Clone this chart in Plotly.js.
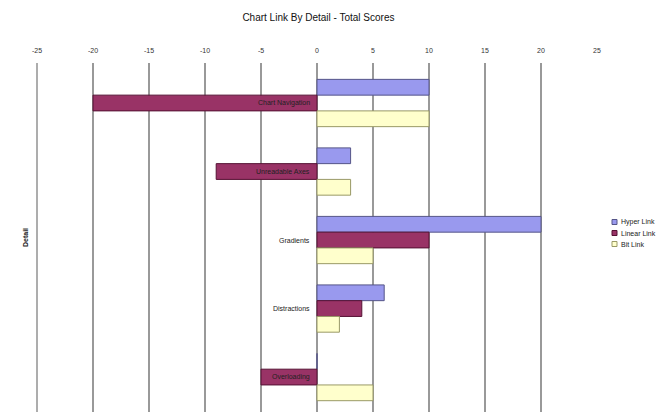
<!DOCTYPE html>
<html>
<head>
<meta charset="utf-8">
<script src="https://cdn.plot.ly/plotly-3.0.1.min.js"></script>
<style>html,body{margin:0;padding:0;background:#fff;}#chart{width:669px;height:412px;}</style>
</head>
<body>
<div id="chart"></div>
<script>
const categories = ["Chart Navigation", "Unreadable Axes", "Gradients", "Distractions", "Overloading"];
const hyperLink = [10, 3, 20, 6, 0];
const linearLink = [-20, -9, 10, 4, -5];
const bitLink = [10, 3, 5, 2, 5];
const seriesNames = ["Hyper Link", "Linear Link", "Bit Link"];
const xTicks = [-25, -20, -15, -10, -5, 0, 5, 10, 15, 20, 25];

const colors = ["#9999ee", "#993366", "#ffffcc"];
const lines = ["#555588", "#551133", "#999966"];
const vals = [hyperLink, linearLink, bitLink];

const traces = vals.map((v, i) => ({
  type: "bar",
  orientation: "h",
  name: seriesNames[i],
  y: categories,
  x: v,
  marker: {color: colors[i], line: {color: lines[i], width: 1}},
  hoverinfo: "x+y+name"
}));

const FONT = "Arial, Liberation Sans, sans-serif";
const W = 669, H = 412, ML = 37, MR = 72, MT = 63, MB = 0;
const pw = W - ML - MR, ph = H - MT - MB;
const px2x = p => (p - ML) / pw;
const py2y = p => 1 - (p - MT) / ph;

const annotations = categories.map(c => ({
  x: 0, y: c, xref: "x", yref: "y",
  text: c, showarrow: false, xanchor: "right", xshift: -5,
  font: {family: FONT, size: 7, color: "#222"}
}));
annotations.push({
  xref: "paper", yref: "paper", x: px2x(20), y: 0.5,
  text: "<b>Detail</b>", textangle: -90, showarrow: false,
  font: {family: FONT, size: 7, color: "#222"}
});

const shapes = [{type: "line", xref: "paper", yref: "paper", x0: 0, x1: 0, y0: 0, y1: 1,
                 line: {color: "#999999", width: 1.6}}];

// manual legend (Excel-style small swatches)
seriesNames.forEach((n, i) => {
  const cy = 222 + i * 11;
  shapes.push({type: "rect", xref: "paper", yref: "paper",
    x0: px2x(612), x1: px2x(617), y0: py2y(cy + 2.5), y1: py2y(cy - 2.5),
    fillcolor: colors[i], line: {color: lines[i], width: 1}});
  annotations.push({xref: "paper", yref: "paper", x: px2x(619), y: py2y(cy),
    xanchor: "left", yanchor: "middle", text: n, showarrow: false,
    font: {family: FONT, size: 7, color: "#222"}});
});

const layout = {
  width: W, height: H,
  margin: {l: ML, r: MR, t: MT, b: MB},
  paper_bgcolor: "#fff", plot_bgcolor: "#fff",
  title: {text: "Chart Link By Detail - Total Scores", xref: "container", x: 0.476, xanchor: "center",
          yref: "container", y: 0.958, yanchor: "middle",
          font: {family: FONT, size: 10, color: "#111"}},
  barmode: "group",
  bargap: 0.31,
  bargroupgap: 0,
  showlegend: false,
  xaxis: {side: "top", range: [-25, 25], tickvals: xTicks, ticktext: xTicks.map(String),
          showgrid: true, gridcolor: "#999999", gridwidth: 1.6, zeroline: false,
          showline: false, ticks: "", fixedrange: true, ticklabelstandoff: 8,
          tickfont: {family: FONT, size: 7, color: "#333"}},
  yaxis: {type: "category", range: [4.51, -0.584], showticklabels: false, showgrid: false,
          zeroline: false, showline: false, ticks: "", fixedrange: true},
  shapes: shapes,
  annotations: annotations
};

Plotly.newPlot("chart", traces, layout, {displayModeBar: false, staticPlot: true});
</script>
</body>
</html>
